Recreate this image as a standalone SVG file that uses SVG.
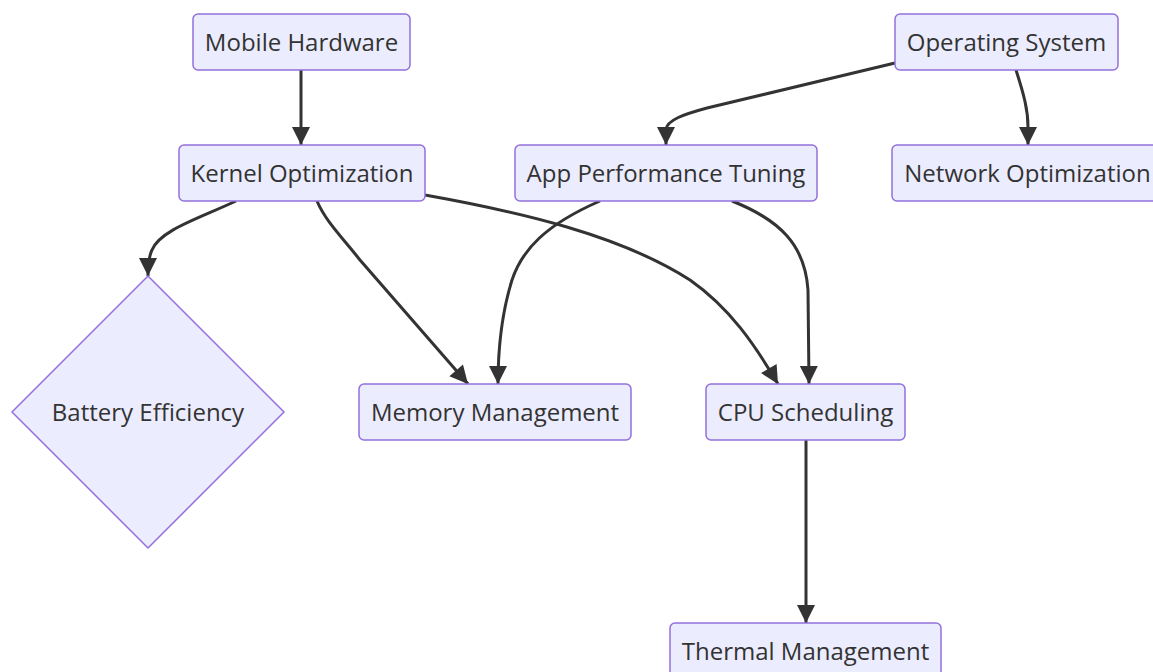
<svg xmlns="http://www.w3.org/2000/svg" width="1153" height="672" viewBox="0 0 1153 672">
  <style>
    .node rect, .node polygon { fill: #ECECFF; stroke: #9370DB; stroke-width: 1.5; }
    .node text { font-family: "Open Sans", "Liberation Sans", sans-serif; font-size: 24px; fill: #333; text-anchor: middle; dominant-baseline: central; }
    .edges path { fill: none; stroke: #333; stroke-width: 3; }
  </style>
  <defs>
    <marker id="arrow" markerUnits="userSpaceOnUse" markerWidth="20" markerHeight="20" viewBox="0 0 20 20" refX="19" refY="10" orient="auto">
      <path d="M1,1 L19,10 L1,19 Z" fill="#333"/>
    </marker>
  </defs>
  <rect width="1153" height="672" fill="#fff"/>

  <!-- connectors -->
  <g class="edges">
    <path d="M301,70 L301,145" marker-end="url(#arrow)"/>
    <path d="M895,63 C800,86 740,100 707,108 C685,114 666,120 666,130 L666,145" marker-end="url(#arrow)"/>
    <path d="M1016,70 C1024,95 1028,110 1028,127 L1028,145" marker-end="url(#arrow)"/>
    <path d="M236,201 C200,218 160,230 152,250 C149,256 148,262 148,276" marker-end="url(#arrow)"/>
    <path d="M317,201 C325,220 340,235 360,260 L468,384" marker-end="url(#arrow)"/>
    <path d="M425,195 C520,212 620,235 690,280 C730,308 755,345 778,384" marker-end="url(#arrow)"/>
    <path d="M600,201 C545,225 522,250 512,280 C502,312 498,345 498,384" marker-end="url(#arrow)"/>
    <path d="M732,201 C780,220 805,245 808,290 L809,384" marker-end="url(#arrow)"/>
    <path d="M806,440 L806,623" marker-end="url(#arrow)"/>
  </g>

  <!-- nodes -->
  <g id="mobile-hardware" class="node">
    <rect x="193" y="14" width="217" height="56" rx="5"/>
    <text x="301.5" y="41">Mobile Hardware</text>
  </g>
  <g id="operating-system" class="node">
    <rect x="895" y="14" width="223" height="56" rx="5"/>
    <text x="1006.5" y="41">Operating System</text>
  </g>
  <g id="kernel-optimization" class="node">
    <rect x="179" y="145" width="246" height="56" rx="5"/>
    <text x="302" y="172">Kernel Optimization</text>
  </g>
  <g id="app-performance-tuning" class="node">
    <rect x="515" y="145" width="302" height="56" rx="5"/>
    <text x="666" y="172">App Performance Tuning</text>
  </g>
  <g id="network-optimization" class="node">
    <rect x="892" y="145" width="271" height="56" rx="5"/>
    <text x="1027.5" y="172">Network Optimization</text>
  </g>
  <g id="battery-efficiency" class="node">
    <polygon points="148,276 284,412 148,548 12,412"/>
    <text x="148" y="411">Battery Efficiency</text>
  </g>
  <g id="memory-management" class="node">
    <rect x="359" y="384" width="272" height="56" rx="5"/>
    <text x="495" y="411">Memory Management</text>
  </g>
  <g id="cpu-scheduling" class="node">
    <rect x="706" y="384" width="199" height="56" rx="5"/>
    <text x="805.5" y="411">CPU Scheduling</text>
  </g>
  <g id="thermal-management" class="node">
    <rect x="670" y="623" width="271" height="56" rx="5"/>
    <text x="805.5" y="650">Thermal Management</text>
  </g>
</svg>
